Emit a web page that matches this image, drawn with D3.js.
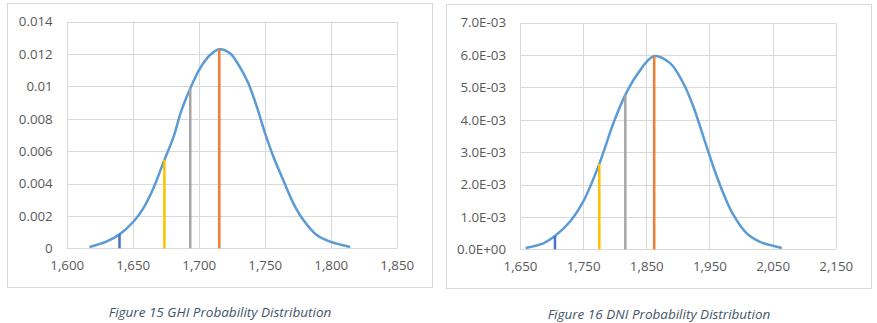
<!DOCTYPE html>
<html>
<head>
<meta charset="utf-8">
<script src="https://cdn.jsdelivr.net/npm/d3@7"></script>
<style>
  html, body { margin: 0; padding: 0; background: #ffffff; }
  svg { display: block; }
  text { font-family: "Open Sans", "Noto Sans", sans-serif; }
</style>
</head>
<body>
<svg id="chart" width="877" height="323"></svg>
<script>
// ---------------- DATA ----------------
// Figure 15 — GHI
const ghiX = [1618, 1630, 1640, 1650.5, 1658, 1665.6, 1674, 1681, 1687, 1693.6, 1701, 1708.6, 1715.6, 1723.7, 1731, 1737.6, 1744, 1750.3, 1756.6, 1764, 1771.7, 1779.3, 1789.4, 1799.5, 1814];
const ghiY = [0.0001, 0.00041, 0.00086, 0.00164, 0.00247, 0.0037, 0.00546, 0.0069, 0.00854, 0.00988, 0.01112, 0.01194, 0.0123, 0.01205, 0.01122, 0.0102, 0.00875, 0.0071, 0.00566, 0.00422, 0.00278, 0.00175, 0.00082, 0.00041, 0.0001];
const ghiMarkerX = [1640, 1674, 1693.6, 1715.6];
const ghiMarkerY = [0.00086, 0.00546, 0.00988, 0.0123];
const ghiXTicks = [1600, 1650, 1700, 1750, 1800, 1850];
const ghiYTicks = [0, 0.002, 0.004, 0.006, 0.008, 0.01, 0.012, 0.014];
const ghiYLabels = ["0", "0.002", "0.004", "0.006", "0.008", "0.01", "0.012", "0.014"];
const ghiCaption = "Figure 15 GHI Probability Distribution";

// Figure 16 — DNI
const dniX = [1660.6, 1687, 1705.4, 1729, 1750, 1775.6, 1797.8, 1816.8, 1834.8, 1862.5, 1887.6, 1908.7, 1924.5, 1940.4, 1956.2, 1972, 1988, 2009, 2030, 2063];
const dniY = [0.00005, 0.000185, 0.00041, 0.00085, 0.00147, 0.00264, 0.00389, 0.00477, 0.00538, 0.00597, 0.00575, 0.00513, 0.00441, 0.00348, 0.00255, 0.00173, 0.00106, 0.00049, 0.00023, 0.00005];
const dniMarkerX = [1705.4, 1775.6, 1816.8, 1862.5];
const dniMarkerY = [0.00041, 0.00264, 0.00477, 0.00597];
const dniXTicks = [1650, 1750, 1850, 1950, 2050, 2150];
const dniYTicks = [0, 0.001, 0.002, 0.003, 0.004, 0.005, 0.006, 0.007];
const dniYLabels = ["0.0E+00", "1.0E-03", "2.0E-03", "3.0E-03", "4.0E-03", "5.0E-03", "6.0E-03", "7.0E-03"];
const dniCaption = "Figure 16 DNI Probability Distribution";

const markerColors = ["#4472C4", "#FFC000", "#A5A5A5", "#ED7D31"];

// ---------------- DRAW ----------------
const svg = d3.select("#chart");

function drawPanel(cfg) {
  const g = svg.append("g");
  // frame
  g.append("rect")
    .attr("x", cfg.frame[0] + 0.5).attr("y", cfg.frame[1] + 0.5)
    .attr("width", cfg.frame[2]).attr("height", cfg.frame[3])
    .attr("fill", "#fff").attr("stroke", "#D9D9D9").attr("stroke-width", 1);

  const x = d3.scaleLinear().domain(cfg.xDomain).range([cfg.plot[0], cfg.plot[2]]);
  const y = d3.scaleLinear().domain(cfg.yDomain).range([cfg.plot[3], cfg.plot[1]]);

  // gridlines
  g.append("g").selectAll("line.h").data(cfg.yTicks).join("line")
    .attr("x1", cfg.plot[0]).attr("x2", cfg.plot[2])
    .attr("y1", d => Math.round(y(d)) + 0.5).attr("y2", d => Math.round(y(d)) + 0.5)
    .attr("stroke", "#D9D9D9").attr("stroke-width", 1);
  g.append("g").selectAll("line.v").data(cfg.xTicks).join("line")
    .attr("x1", d => Math.round(x(d)) + 0.5).attr("x2", d => Math.round(x(d)) + 0.5)
    .attr("y1", cfg.plot[1]).attr("y2", cfg.plot[3])
    .attr("stroke", "#D9D9D9").attr("stroke-width", 1);

  // axes
  const yAxis = d3.axisLeft(y).tickValues(cfg.yTicks)
    .tickFormat((d, i) => cfg.yLabels[i]).tickSize(0).tickPadding(cfg.yPad);
  const ya = g.append("g").attr("transform", `translate(${cfg.plot[0]},0)`).call(yAxis);
  ya.select(".domain").remove();
  ya.selectAll("text").attr("fill", "#595959").style("font-size", "13.3px");

  const xAxis = d3.axisBottom(x).tickValues(cfg.xTicks)
    .tickFormat(d3.format(",")).tickSize(0).tickPadding(12);
  const xa = g.append("g").attr("transform", `translate(0,${cfg.plot[3]})`).call(xAxis);
  xa.select(".domain").remove();
  xa.selectAll("text").attr("fill", "#595959").style("font-size", "13.3px");

  // curve
  const pts = cfg.xs.map((v, i) => [v, cfg.ys[i]]);
  const line = d3.line().x(d => x(d[0])).y(d => y(d[1])).curve(d3.curveCatmullRom.alpha(0.5));
  g.append("path").datum(pts).attr("d", line)
    .attr("fill", "none").attr("stroke", "#5B9BD5").attr("stroke-width", 2.5)
    .attr("stroke-linecap", "round").attr("stroke-linejoin", "round");

  // markers
  g.append("g").selectAll("line").data(cfg.mx).join("line")
    .attr("x1", d => x(d)).attr("x2", d => x(d))
    .attr("y1", y(0)).attr("y2", (d, i) => y(cfg.my[i]))
    .attr("stroke", (d, i) => markerColors[i]).attr("stroke-width", 2.5);

  // caption
  g.append("text").attr("x", cfg.caption[0]).attr("y", cfg.caption[1])
    .attr("text-anchor", "middle").attr("font-style", "italic")
    .attr("fill", "#44546A").style("font-size", "13.5px").text(cfg.captionText);
}

drawPanel({
  frame: [7, 3, 425, 284],
  plot: [66.7, 21.7, 396.7, 248.3],
  xDomain: [1600, 1850], yDomain: [0, 0.014],
  xTicks: ghiXTicks, yTicks: ghiYTicks, yLabels: ghiYLabels, yPad: 14,
  xs: ghiX, ys: ghiY, mx: ghiMarkerX, my: ghiMarkerY,
  caption: [220, 317], captionText: ghiCaption
});

drawPanel({
  frame: [446, 4, 425, 284],
  plot: [520, 22.7, 835.7, 249.3],
  xDomain: [1650, 2150], yDomain: [0, 0.007],
  xTicks: dniXTicks, yTicks: dniYTicks, yLabels: dniYLabels, yPad: 14,
  xs: dniX, ys: dniY, mx: dniMarkerX, my: dniMarkerY,
  caption: [659, 319], captionText: dniCaption
});
</script>
</body>
</html>
